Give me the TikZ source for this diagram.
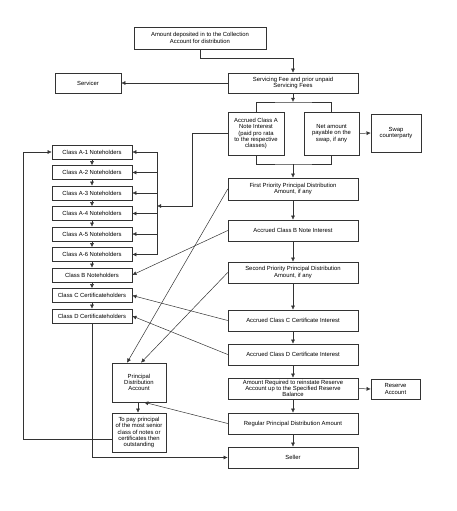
\documentclass[tikz,border=0pt]{standalone}
\usepackage{fontspec}
\setmainfont{Liberation Sans}
\usetikzlibrary{arrows.meta, positioning, calc}
\tikzset{
  box/.style={rectangle,draw=black!80,line width=0.5pt,align=center,
    inner sep=0.5pt,font=\fontsize{5.9}{6.3}\selectfont},
  mainbox/.style={box,minimum width=130pt,minimum height=21pt},
  classbox/.style={box,minimum width=80pt,minimum height=14pt},
  smallbox/.style={box,minimum width=54pt,minimum height=39pt},
  arrow/.style={-{Latex[length=4.2pt,width=4pt]},line width=0.5pt,draw=black!80},
  plain/.style={line width=0.5pt,draw=black!80}
}
\begin{document}
\begin{tikzpicture}[x=1pt,y=-1pt]
  \useasboundingbox (0,0) rectangle (456,511);

  % main column
  \node[box,minimum width=132pt,minimum height=22pt] (deposit) at (200,38)
    {Amount deposited in to the Collection\\Account for distribution};
  \node[mainbox,minimum height=20pt] (serv) at (293,83)
    {Servicing Fee and prior unpaid\\Servicing Fees};
  \node[box,minimum width=66pt,minimum height=20pt] (servicer) at (88,83) {Servicer};
  \node[box,minimum width=56pt,minimum height=43pt] (accA) at (256,133.5)
    {Accrued Class A\\Note Interest\\(paid pro rata\\to the respective\\classes)};
  \node[box,minimum width=55pt,minimum height=43pt] (net) at (331.5,133.5)
    {Net amount\\payable on the\\swap, if any};
  \node[box,minimum width=50pt,minimum height=38pt] (swap) at (396,133)
    {Swap\\counterparty};
  \node[mainbox,minimum height=22pt] (first) at (293,189)
    {First Priority Principal Distribution\\Amount, if any};
  \node[mainbox] (accB) at (293,230.5) {Accrued Class B Note Interest};
  \node[mainbox] (second) at (293,272.5)
    {Second Priority Principal Distribution\\Amount, if any};
  \node[mainbox] (accC) at (293,320.5) {Accrued Class C Certificate Interest};
  \node[mainbox] (accD) at (293,354.5) {Accrued Class D Certificate Interest};
  \node[mainbox] (reinst) at (293,388.5)
    {Amount Required to reinstate Reserve\\Account up to the Specified Reserve\\Balance};
  \node[box,minimum width=49pt,minimum height=20pt] (reserve) at (395.5,389)
    {Reserve\\Account};
  \node[mainbox] (regular) at (293,423.5) {Regular Principal Distribution Amount};
  \node[mainbox] (seller) at (293,457.5) {Seller};

  % principal account
  \node[smallbox] (pda) at (139,382.5) {Principal\\Distribution\\Account};
  \node[smallbox] (topay) at (139,432.5)
    {To pay principal\\of the most senior\\class of notes or\\certificates then\\outstanding};

  % holders
  \foreach \i in {1,...,6}
    \node[classbox] (cA\i) at (92,{152+20.5*(\i-1)}) {Class A-\i\ Noteholders};
  \node[classbox] (cB) at (92,275) {Class B Noteholders};
  \node[classbox] (cC) at (92,295.5) {Class C Certificateholders};
  \node[classbox] (cD) at (92,316) {Class D Certificateholders};

  \coordinate (splitT) at (293,102);
  \coordinate (joinB) at (293,164);
  \coordinate (brk) at (157,206);
  \coordinate (loopL) at (23,439.5);

  \draw[arrow] (deposit.south) -- ++(0,9) -| (serv.north);
  \draw[arrow] (serv.west) -- (servicer.east);
  \draw[arrow] (serv.south) -- (splitT);
  \draw[plain] (accA.north) |- (splitT) -| (net.north);
  \draw[plain] (accA.south) |- (joinB) -| (net.south);
  \draw[arrow] (joinB) -- (first.north);
  \draw[arrow] (net.east) -- (swap.west);

  \draw[arrow] (accA.west) -- ++(-36,0) |- (brk);
  \draw[plain] (cA1.east -| brk) -- (cA6.east -| brk);
  \foreach \i in {1,...,6}
    \draw[arrow] (cA\i.east -| brk) -- (cA\i.east);
  \foreach \a/\b in {cA1/cA2,cA2/cA3,cA3/cA4,cA4/cA5,cA5/cA6,cA6/cB,cB/cC,cC/cD}
    \draw[arrow] (\a.south) -- (\b.north);

  \foreach \a/\b in {first/accB,accB/second,second/accC,accC/accD,accD/reinst,reinst/regular,regular/seller}
    \draw[arrow] (\a.south) -- (\b.north);
  \draw[arrow] (reinst.east) -- (reserve.west);

  \draw[arrow] (first.west) -- ([xshift=-12pt]pda.north);
  \draw[arrow] (second.west) -- ([xshift=2pt]pda.north);
  \draw[arrow] (accB.west) -- (cB.east);
  \draw[arrow] (accC.west) -- (cC.east);
  \draw[arrow] (accD.west) -- (cD.east);
  \draw[arrow] (regular.west) -- ([xshift=5pt]pda.south);
  \draw[arrow] ([xshift=-1pt]pda.south) -- ([xshift=-1pt]topay.north);

  \draw[arrow] ([yshift=-7pt]topay.west) -- (loopL) |- (cA1.west);
  \draw[arrow] (cD.south) |- (seller.west);
\end{tikzpicture}
\end{document}
